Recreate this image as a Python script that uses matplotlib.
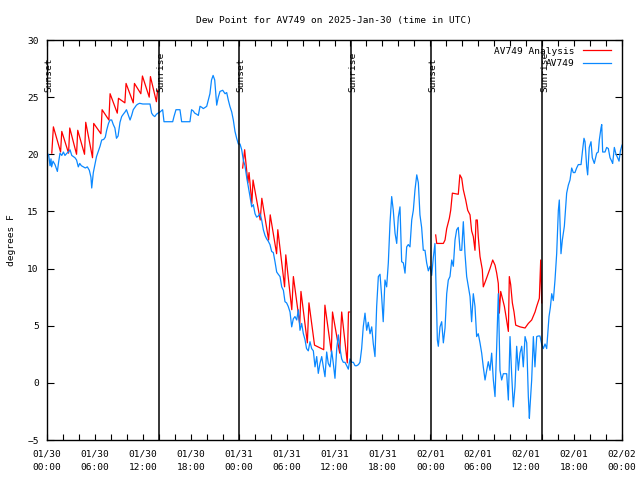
import numpy as np
import matplotlib
matplotlib.use("Agg")
import matplotlib.pyplot as plt

# hours since 2025-01-30 00:00 UTC
obs_hours = [
    0.0, 0.2, 0.38, 0.5, 0.58, 0.75, 1.0, 1.3, 1.45, 1.63, 1.85, 2.05, 2.25, 2.5, 2.7, 2.88,
    3.1, 3.3, 3.5, 3.7, 3.92, 4.1, 4.3, 4.55, 4.8, 5.05, 5.3, 5.5, 5.6, 5.8, 6.0, 6.2,
    6.45, 6.64, 6.85, 7.1, 7.3, 7.47, 7.7, 7.89, 8.1, 8.3, 8.5, 8.7, 8.9, 9.14, 9.35, 9.55,
    9.77, 9.95, 10.15, 10.4, 10.6, 10.8, 11.0, 11.2, 11.4, 11.6, 12.0, 12.5, 12.9, 13.1,
    13.3, 13.5, 13.7, 13.9, 14.15, 14.48, 14.65, 15.0, 15.4, 15.74, 15.9, 16.15, 16.4, 16.65,
    16.86, 17.2, 17.6, 17.9, 18.1, 18.3, 18.5, 18.75, 18.95, 19.16, 19.4, 19.57, 19.8, 20.0,
    20.2, 20.4, 20.6, 20.8, 21.0, 21.25, 21.45, 21.66, 22.0, 22.3, 22.5, 22.7, 22.9, 23.13,
    23.33, 23.54, 23.75, 23.96, 24.17, 24.38, 24.58, 24.79, 25.0, 25.2, 25.42, 25.63, 25.83,
    26.05, 26.25, 26.46, 26.67, 26.88, 27.09, 27.3, 27.5, 27.7, 27.92, 28.13, 28.34, 28.55,
    28.76, 28.96, 29.18, 29.39, 29.6, 29.8, 30.0, 30.2, 30.43, 30.64, 30.84, 31.05, 31.27,
    31.47, 31.68, 31.89, 32.1, 32.3, 32.5, 32.72, 32.93, 33.14, 33.35, 33.56, 33.77, 33.97,
    34.18, 34.4, 34.6, 34.81, 35.02, 35.22, 35.44, 35.65, 35.85, 36.06, 36.28, 36.48, 36.69,
    36.9, 37.1, 37.31, 37.53, 37.73, 37.94, 38.15, 38.36, 38.57, 38.78, 39.0, 39.19, 39.4,
    39.6, 39.82, 40.03, 40.23, 40.45, 40.66, 40.86, 41.07, 41.28, 41.49, 41.7, 41.9, 42.1,
    42.32, 42.53, 42.74, 42.95, 43.16, 43.36, 43.58, 43.79, 43.99, 44.2, 44.41, 44.62, 44.83,
    45.04, 45.24, 45.45, 45.67, 45.87, 46.08, 46.3, 46.5, 46.7, 46.91, 47.12, 47.33, 47.54,
    47.75, 47.96, 48.17, 48.38, 48.58, 48.71, 48.88, 49.0, 49.21, 49.42, 49.63, 49.84, 50.05,
    50.25, 50.46, 50.68, 50.88, 51.09, 51.3, 51.5, 51.72, 51.93, 52.13, 52.34, 52.55, 52.76,
    52.97, 53.17, 53.38, 53.59, 53.8, 54.0, 54.22, 54.43, 54.63, 54.85, 55.06, 55.26, 55.47,
    55.68, 55.89, 56.1, 56.31, 56.51, 56.72, 56.93, 57.14, 57.35, 57.56, 57.77, 57.98, 58.18,
    58.39, 58.6, 58.81, 59.02, 59.23, 59.44, 59.64, 59.86, 60.07, 60.27, 60.4, 60.48, 60.69,
    60.9, 61.1, 61.32, 61.52, 61.73, 61.94, 62.15, 62.36, 62.57, 62.7, 62.86, 63.03, 63.2,
    63.4, 63.61, 63.82, 64.03, 64.15, 64.36, 64.53, 64.78, 64.95, 65.07, 65.28, 65.49, 65.7,
    65.9, 66.11, 66.32, 66.53, 66.87, 67.07, 67.24, 67.37, 67.58, 67.7, 67.9, 68.12, 68.28,
    68.53, 68.83, 69.03, 69.16, 69.37, 69.46, 69.58, 69.87, 70.08, 70.29, 70.5, 70.71, 70.83,
    71.04, 71.25, 71.45, 71.63, 71.8, 72.0,
]
obs_dewpt = [
    19.9, 20.0, 19.0, 19.6, 18.9, 19.4, 19.1, 18.5, 19.3, 20.1, 19.9, 20.2, 19.9, 20.1, 20.2, 20.4,
    19.9, 19.8, 19.7, 19.5, 18.9, 19.2, 19.0, 18.9, 18.8, 18.9, 18.6, 18.0, 17.05, 18.4, 19.1, 19.8,
    20.3, 20.7, 21.25, 21.3, 21.5, 22.1, 22.7, 23.0, 23.0, 22.6, 22.3, 21.4, 21.6, 22.8, 23.3, 23.5,
    23.7, 23.9, 23.5, 23.0, 23.4, 23.9, 24.1, 24.3, 24.4, 24.46, 24.4, 24.4, 24.4, 23.6,
    23.4, 23.3, 23.5, 23.6, 23.7, 23.9, 22.85, 22.85, 22.85, 22.85, 23.3, 23.9, 23.9, 23.9,
    22.85, 22.85, 22.85, 22.85, 23.9, 23.8, 23.6, 23.5, 23.4, 24.2, 24.1, 24.0, 24.1, 24.2,
    24.75, 25.3, 26.5, 26.9, 26.5, 24.3, 25.0, 25.5, 25.6, 25.3, 25.4, 24.75, 24.2, 23.7,
    23.0, 22.0, 21.4, 20.9, 20.9, 20.4, 19.5, 19.0, 18.0, 17.2, 16.3, 15.4, 15.6,
    14.8, 14.5, 14.6, 14.8, 14.25, 13.4, 12.9, 12.6, 12.4, 12.1, 11.5, 11.4, 10.6,
    9.7, 9.5, 9.3, 8.4, 8.1, 7.1, 7.0, 6.7, 6.2, 4.9, 5.6, 5.8, 5.5,
    6.4, 4.6, 5.2, 4.3, 3.8, 3.0, 2.8, 3.6, 3.0, 2.8, 1.4, 2.3, 0.83,
    1.7, 2.3, 1.4, 0.54, 2.7, 1.7, 1.4, 2.8, 1.7, 0.4, 3.0, 4.2, 3.0,
    2.1, 1.8, 1.8, 1.5, 1.2, 2.1, 1.8, 1.8, 1.5, 1.5, 1.6, 1.8, 3.0,
    4.9, 6.1, 4.6, 5.3, 4.3, 4.9, 3.4, 2.3, 6.7, 9.3, 9.5, 7.6, 5.35,
    9.0, 8.4, 10.5, 14.0, 16.3, 15.1, 13.1, 12.2, 14.5, 15.4, 10.6, 10.5, 9.6,
    11.9, 12.1, 11.9, 14.25, 15.1, 16.9, 18.2, 17.5, 14.7, 13.6, 11.6, 11.6, 10.5,
    9.8, 10.2, 9.4, 11.0, 12.2, 8.4, 3.75, 3.2, 4.9, 5.35, 3.5, 4.8, 7.8,
    9.0, 9.3, 10.75, 10.2, 12.5, 13.4, 13.6, 11.6, 11.6, 14.1, 11.3, 9.3, 8.4,
    7.55, 5.35, 7.8, 6.7, 4.05, 4.3, 3.5, 2.6, 1.4, 0.25, 1.1, 1.85, 1.1,
    2.6, 0.25, -1.2, 3.2, 7.8, 1.1, 0.25, 0.8, 0.8, 0.8, -1.5, 4.05, 0.8,
    -2.1, -0.35, 3.2, 1.1, 2.6, 3.2, 1.4, 4.05, 3.5, -1.2, -3.1, -2.1, 0.25,
    4.05, 1.4, 4.05, 4.1, 4.1, 3.4, 3.0, 3.4, 3.0, 4.3, 5.8, 6.6, 7.8,
    7.2, 9.0, 11.3, 15.1, 16.0, 11.3, 12.5, 13.7, 15.4, 16.6, 17.3, 17.75, 18.8,
    18.4, 18.4, 18.8, 19.1, 19.1, 20.4, 21.4, 21.1, 18.9, 18.2, 20.6, 21.1, 19.7,
    19.2, 20.1, 20.2, 21.25, 22.3, 22.6, 20.2, 20.2, 20.6, 20.5, 19.7, 19.4, 19.2,
    20.6, 20.0, 19.7, 19.4, 20.3, 20.8,
]

# analysis runs (three nights)
ana_hours_1 = [0.6, 0.8, 1.7, 1.85, 2.7, 2.85, 3.7, 3.85, 4.7, 4.85, 5.7, 5.85, 6.75, 6.9,
               7.75, 7.9, 8.8, 8.95, 9.75, 9.9, 10.8, 10.95, 11.75, 11.95, 12.8, 12.95, 13.7, 13.85]
ana_dewpt_1 = [20.1, 22.4, 20.2, 22.0, 20.1, 22.3, 20.0, 22.1, 20.0, 22.8, 19.7, 22.7, 21.8, 23.9,
               23.0, 25.3, 23.6, 24.9, 24.5, 26.2, 24.5, 26.2, 25.3, 26.85, 25.0, 26.8, 24.6, 25.6]
ana_hours_2 = [24.5, 24.75, 25.15, 25.3, 25.65, 25.8, 26.7, 26.9, 27.75, 27.95, 28.75, 28.9,
               29.75, 29.9, 30.65, 30.85, 31.65, 31.8, 32.6, 32.8, 33.5, 34.65, 34.8, 35.6,
               35.75, 36.65, 36.9, 37.6, 37.75, 37.9]
ana_dewpt_2 = [18.8, 20.4, 17.5, 18.4, 15.7, 17.75, 14.25, 16.15, 12.5, 14.7, 11.3, 13.4,
               8.4, 11.2, 6.4, 9.3, 5.1, 8.0, 3.5, 7.0, 3.3, 2.9, 6.8, 2.7,
               6.2, 2.6, 6.2, 1.75, 6.2, 6.2]
ana_hours_3 = [48.67, 48.8, 49.63, 49.84, 50.05, 50.38, 50.55, 50.76, 51.5, 51.7, 51.93, 52.13,
               52.43, 52.68, 52.97, 53.17, 53.38, 53.59, 53.72, 53.88, 54.0, 54.22, 54.51, 54.63,
               54.85, 55.06, 55.47, 55.81, 56.1, 56.31, 56.51, 56.64, 56.81, 57.06, 57.27, 57.48,
               57.77, 57.89, 58.06, 58.27, 58.48, 58.69, 59.23, 59.86, 60.27, 60.69, 61.11, 61.32,
               61.65, 61.82, 61.95]
ana_dewpt_3 = [12.94, 12.2, 12.2, 12.5, 13.5, 14.4, 15.1, 16.6, 16.5, 18.2, 17.9, 16.9,
               16.0, 15.1, 14.7, 13.3, 12.8, 11.6, 14.25, 14.25, 12.8, 11.05, 9.9, 8.4,
               8.8, 9.2, 10.0, 10.75, 10.3, 9.6, 8.7, 6.1, 8.0, 7.3, 6.7, 5.8,
               4.5, 9.3, 8.6, 7.0, 6.2, 5.05, 4.9, 4.8, 5.2, 5.5, 6.2, 6.7,
               7.4, 10.75, 7.0]

sunset_hours = [0.03, 24.08, 48.12]
sunrise_hours = [14.02, 38.08, 62.03]

tick_hours = list(range(0, 73, 6))
tick_labels = ["01/30\n00:00", "01/30\n06:00", "01/30\n12:00", "01/30\n18:00",
               "01/31\n00:00", "01/31\n06:00", "01/31\n12:00", "01/31\n18:00",
               "02/01\n00:00", "02/01\n06:00", "02/01\n12:00", "02/01\n18:00",
               "02/02\n00:00"]

plt.rcParams['font.family'] = ['DejaVu Sans Mono']
fs = 6.8

fig = plt.figure(figsize=(6.4, 4.8), dpi=100)
ax = fig.add_axes([47 / 640, 40 / 480, 575 / 640, 400 / 480])

for i, (h, v) in enumerate([(ana_hours_1, ana_dewpt_1), (ana_hours_2, ana_dewpt_2),
                            (ana_hours_3, ana_dewpt_3)]):
    ax.plot(h, v, color='#ff0000', lw=0.9, label='AV749 Analysis' if i == 0 else None)
ax.plot(obs_hours, obs_dewpt, color='#0a88ff', lw=0.9, label='AV749')

for h in sunset_hours:
    ax.axvline(h, color='black', lw=1.1)
    ax.text(h + 0.25, 25.45, 'Sunset', rotation=90, ha='center', va='bottom', fontsize=fs)
for h in sunrise_hours:
    ax.axvline(h, color='black', lw=1.1)
    ax.text(h + 0.25, 25.45, 'Sunrise', rotation=90, ha='center', va='bottom', fontsize=fs)

ax.set_xlim(0, 72)
ax.set_ylim(-5, 30)
ax.set_xticks(tick_hours)
ax.set_xticklabels(tick_labels, fontsize=fs, linespacing=1.6)
ax.set_xticks(range(0, 73, 2), minor=True)
ax.set_yticks(range(-5, 31, 5))
ax.tick_params(axis='y', labelsize=fs, direction='in', length=5, width=0.8,
               right=True, pad=6)
ax.tick_params(axis='x', which='both', direction='in', length=4, width=0.8,
               top=True, pad=7)
for s in ax.spines.values():
    s.set_linewidth(1.0)

ax.set_ylabel('degrees F', fontsize=fs, labelpad=8)
ax.set_title('Dew Point for AV749 on 2025-Jan-30 (time in UTC)', fontsize=fs, pad=12)

ax.legend(loc='upper right', frameon=False, fontsize=fs, markerfirst=False,
          handlelength=3.0, handletextpad=0.9, labelspacing=0.35,
          borderaxespad=0.3, bbox_to_anchor=(0.993, 1.0))

fig.savefig('out.png', dpi=100)
